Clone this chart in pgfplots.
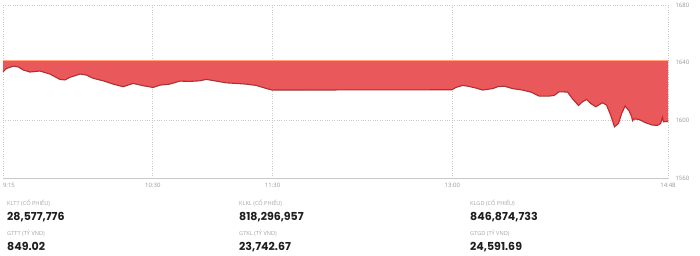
\documentclass[border=0pt]{standalone}
\usepackage{pgfplots}
\pgfplotsset{compat=1.18}
\usepackage{fontspec}
\setmainfont{Open Sans}
\newfontfamily\numfont{Poppins}
\definecolor{fillred}{RGB}{233,88,90}
\definecolor{linered}{RGB}{212,32,36}
\definecolor{refline}{RGB}{242,180,96}
\definecolor{gridc}{RGB}{200,200,200}
\definecolor{labc}{RGB}{150,150,150}
\definecolor{caplc}{RGB}{165,165,165}
\definecolor{numc}{RGB}{30,30,30}
\pgfplotstableread{
t v
0 1633.7
1.8 1636
5.2 1637.6
7.7 1637
10.2 1634.9
13.5 1633.5
18.5 1634.2
23.5 1632.1
28.5 1628.4
31 1628
33.5 1629.8
38.5 1632.1
41.8 1631.4
45.2 1629.1
50.2 1627.4
55.2 1625.1
60.2 1623.3
65.2 1625.6
70.2 1624
75.2 1622.8
78.5 1624.4
83.5 1625.1
88.5 1627.2
93.5 1627
98.5 1627.4
101.8 1628.4
106.8 1627.2
111.8 1626
116.8 1625.6
121.8 1625.1
126.8 1624.2
131.8 1622.1
134.8 1621
224.8 1621.2
226.8 1622.8
230.2 1624.2
232.7 1623.7
236.8 1622.4
240.2 1621
245.2 1622
247.7 1623.3
251 1623.7
255.2 1622
260.2 1621
264.3 1619.6
268.5 1616.8
273.5 1616.8
276 1617.3
278.5 1619.8
282.7 1619.6
285.2 1614.9
288.2 1610.3
290.2 1612.9
292.2 1614.5
294.3 1611.7
296.8 1609.4
300.2 1612.2
302.2 1610.6
304.3 1603.6
306.2 1595.5
308.2 1597.8
309.8 1604.8
311.5 1609.9
313.5 1606.6
314.8 1602.5
315.2 1599.7
316 1601
318.5 1600.6
321.8 1598.3
325.2 1596.7
327.7 1596.5
329.3 1597.8
330.2 1602
330.7 1599
332.7 1599.2
333 1599.2
}\datatable
\pgfplotstableread{
t v
0 1633.7
1.8 1636
5.2 1637.6
7.7 1637
10.2 1634.9
13.5 1633.5
18.5 1634.2
23.5 1632.1
28.5 1628.4
31 1628
33.5 1629.8
38.5 1632.1
41.8 1631.4
45.2 1629.1
50.2 1627.4
55.2 1625.1
60.2 1623.3
65.2 1625.6
70.2 1624
75.2 1622.8
78.5 1624.4
83.5 1625.1
88.5 1627.2
93.5 1627
98.5 1627.4
101.8 1628.4
106.8 1627.2
111.8 1626
116.8 1625.6
121.8 1625.1
126.8 1624.2
131.8 1622.1
134.8 1621
224.8 1621.2
226.8 1622.8
230.2 1624.2
232.7 1623.7
236.8 1622.4
240.2 1621
245.2 1622
247.7 1623.3
251 1623.7
255.2 1622
260.2 1621
264.3 1619.6
268.5 1616.8
273.5 1616.8
276 1617.3
278.5 1619.8
282.7 1619.6
285.2 1614.9
288.2 1610.3
290.2 1612.9
292.2 1614.5
294.3 1611.7
296.8 1609.4
300.2 1612.2
302.2 1610.6
304.3 1603.6
306.2 1595.5
308.2 1597.8
309.8 1604.8
311.5 1609.9
313.5 1606.6
314.8 1602.5
315.2 1599.7
316 1601
318.5 1600.6
321.8 1598.3
325.2 1596.7
327.7 1596.5
329.3 1597.8
330.2 1602
330.7 1599
332.7 1599.2
333 1599.2
333 1641.8
0 1641.8
}\filltable
\begin{document}
\begin{tikzpicture}
\path[use as bounding box] (0pt,0pt) rectangle (700pt,256pt);
\begin{axis}[
  at={(3pt,78pt)}, anchor=south west,
  scale only axis, width=665pt, height=173pt,
  xmin=0, xmax=333, ymin=1560, ymax=1680,
  axis line style={draw=none},
  xtick={0,75,135,225,333},
  xticklabels={\makebox[0pt][l]{9:15},10:30,11:30,13:00,14:48},
  ytick={1560,1600,1640,1680},
  yticklabel pos=right,
  yticklabel style={anchor=west, xshift=4pt},
  /pgf/number format/assume math mode=true,
  /pgf/number format/set thousands separator={},
  ticklabel style={font=\fontsize{6}{7}\selectfont, text=labc},
  xticklabel style={yshift=-1.5pt},
  major tick length=0pt,
  grid=major,
  major grid style={draw=gridc, dotted, line width=0.6pt},
  clip=false,
]
\addplot[fill=fillred, draw=none] table[x=t,y=v] {\filltable};
\addplot[draw=linered, line width=1.1pt] table[x=t,y=v] {\datatable};
\addplot[draw=refline, line width=0.7pt] coordinates {(0,1641.8) (333,1641.8)};
\draw[gridc, line width=0.8pt] (axis cs:0,1560) -- (axis cs:333,1560);
\end{axis}
\begin{scope}[every node/.style={anchor=west, inner sep=0pt}]
\foreach \x/\a/\b/\c/\d in {7/{KLTT (CỔ PHIẾU)}/{28,577,776}/{GTTT (TỶ VND)}/{849.02},
                           239/{KLKL (CỔ PHIẾU)}/{818,296,957}/{GTKL (TỶ VND)}/{23,742.67},
                           470/{KLGD (CỔ PHIẾU)}/{846,874,733}/{GTGD (TỶ VND)}/{24,591.69}}{
  \node[text=caplc, font=\fontsize{5.6}{6}\selectfont] at (\x pt,52.5pt) {\a};
  \node[text=numc, font=\numfont\fontsize{11}{12}\selectfont\bfseries] at (\x pt,39.3pt) {\b};
  \node[text=caplc, font=\fontsize{5.6}{6}\selectfont] at (\x pt,23.2pt) {\c};
  \node[text=numc, font=\numfont\fontsize{11}{12}\selectfont\bfseries] at (\x pt,9.3pt) {\d};
}
\end{scope}
\end{tikzpicture}
\end{document}
